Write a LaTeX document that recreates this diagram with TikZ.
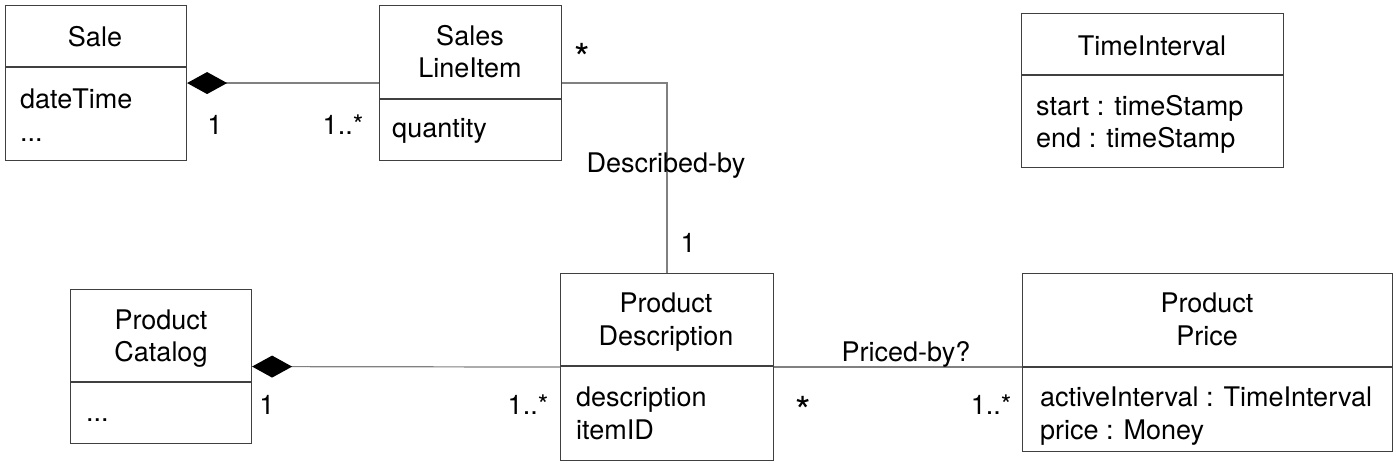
\documentclass[tikz,border=0pt]{standalone}
\usepackage{fontspec}
\setmainfont{TeX Gyre Heros}
\usetikzlibrary{arrows.meta}
\definecolor{boxc}{HTML}{404040}
\definecolor{linec}{HTML}{808080}
\begin{document}
\begin{tikzpicture}[x=1pt,y=-1pt]
\tikzset{
 box/.style={draw=boxc, line width=1.1pt, inner sep=0pt, anchor=north west},
 txt/.style={font=\fontsize{27}{33}\selectfont, inner sep=0pt, text=black, anchor=base},
 attr/.style={txt, anchor=base west},
 star/.style={font=\fontsize{40}{40}\selectfont, inner sep=0pt, text=black},
 div/.style={draw=boxc, line width=1.1pt},
 assoc/.style={draw=linec, line width=1.2pt},
 comp/.style={assoc, {Diamond[length=40pt,width=22pt,color=black]}-}
}
\useasboundingbox (0,0) rectangle (1396,463);
% boxes
\node[box, minimum width=181pt, minimum height=155pt] (sale) at (5,5) {};
\node[box, minimum width=182pt, minimum height=155pt] (sli) at (379,5) {};
\node[box, minimum width=262pt, minimum height=154pt] (ti) at (1021,13) {};
\node[box, minimum width=181pt, minimum height=154pt] (pc) at (70,289) {};
\node[box, minimum width=213pt, minimum height=187pt] (pd) at (560,273) {};
\node[box, minimum width=370pt, minimum height=178pt] (pp) at (1022,273) {};
% dividers
\draw[div] (sale.west |- 0,67) -- (sale.east |- 0,67);
\draw[div] (sli.west |- 0,99) -- (sli.east |- 0,99);
\draw[div] (ti.west |- 0,75) -- (ti.east |- 0,75);
\draw[div] (pc.west |- 0,382) -- (pc.east |- 0,382);
\draw[div] (pd.west |- 0,366) -- (pd.east |- 0,366);
\draw[div] (pp.west |- 0,367) -- (pp.east |- 0,367);
% texts
\node[txt] (saleT) at (95,46) {Sale};
\node[attr] (saleA1) at (20,108) {dateTime};
\node[attr] (saleA2) at (20,141) {...};
\node[txt] (sliT1) at (470,45) {Sales};
\node[txt] (sliT2) at (470,77) {LineItem};
\node[attr] (sliA1) at (392,137) {quantity};
\node[txt] (tiT) at (1152,55) {TimeInterval};
\node[attr] (tiA1) at (1036,115) {start : timeStamp};
\node[attr] (tiA2) at (1036,147) {end : timeStamp};
\node[txt] (pcT1) at (161,329) {Product};
\node[txt] (pcT2) at (161,361) {Catalog};
\node[attr] (pcA1) at (86,421) {...};
\node[txt] (pdT1) at (666,312) {Product};
\node[txt] (pdT2) at (666,345) {Description};
\node[attr] (pdA1) at (576,406) {description};
\node[attr] (pdA2) at (576,439) {itemID};
\node[txt] (ppT1) at (1207,312) {Product};
\node[txt] (ppT2) at (1207,345) {Price};
\node[attr] (ppA1) at (1040,406) {activeInterval : TimeInterval};
\node[attr] (ppA2) at (1040,439) {price : Money};
% connectors
\draw[comp] (sale.east) -- (sli.west);
\draw[assoc] (sli.east) -| (pd.north);
\draw[comp] (pc.east) -- (pd.west);
\draw[assoc] (pd.east) -- (pd.east -| pp.west);
% labels
\node[txt] (m1) at (215,134) {1};
\node[txt] (m2) at (343,134) {1..*};
\node[star] (m3) at (582,58) {*};
\node[txt] (l1) at (666,172) {Described-by};
\node[txt] (m4) at (688,252) {1};
\node[txt] (m5) at (267,414) {1};
\node[txt] (m6) at (528,414) {1..*};
\node[txt] (l2) at (906,361) {Priced-by?};
\node[star] (m7) at (803,411) {*};
\node[txt] (m8) at (991,414) {1..*};
\end{tikzpicture}
\end{document}
